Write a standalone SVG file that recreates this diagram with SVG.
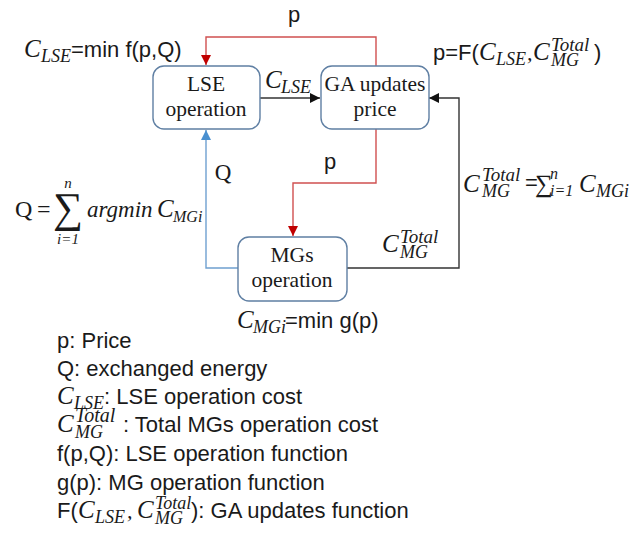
<svg xmlns="http://www.w3.org/2000/svg" width="640" height="539" viewBox="0 0 640 539">
<style>
.sans{font-family:"Liberation Sans",Arial,sans-serif;font-size:22px;fill:#1a1a1a}
.mi{font-family:"Liberation Serif","Times New Roman",serif;font-style:italic;fill:#1a1a1a}
.rm{font-family:"Liberation Serif","Times New Roman",serif;fill:#1a1a1a}
.box{fill:#fff;stroke:#5f7fa3;stroke-width:1.4}
.lbl{font-family:"Liberation Serif","Times New Roman",serif;font-size:21.5px;text-anchor:middle;fill:#1a1a1a}
.red{fill:none;stroke:#d05050;stroke-width:1.4}
.blue{fill:none;stroke:#6fa0d0;stroke-width:1.4}
.blk{fill:none;stroke:#333;stroke-width:1.4}
</style>
<defs>
<marker id="ar" markerUnits="userSpaceOnUse" markerWidth="12" markerHeight="12" refX="10" refY="5" orient="auto"><path d="M0,0 L10,5 L0,10 z" fill="#c00000"/></marker>
<marker id="ab" markerUnits="userSpaceOnUse" markerWidth="12" markerHeight="12" refX="10" refY="5" orient="auto"><path d="M0,0 L10,5 L0,10 z" fill="#4a90d0"/></marker>
<marker id="ak" markerUnits="userSpaceOnUse" markerWidth="12" markerHeight="12" refX="10" refY="5" orient="auto"><path d="M0,0 L10,5 L0,10 z" fill="#111"/></marker>
</defs>
<rect width="640" height="539" fill="#fff"/>
<g id="connectors">
<path class="red" d="M376,66 V37 H206 V65" marker-end="url(#ar)"/>
<path class="red" d="M376,129 V183 H293 V236" marker-end="url(#ar)"/>
<path class="blue" d="M238,268 H206 V130" marker-end="url(#ab)"/>
<path class="blk" d="M260,98 H320" marker-end="url(#ak)"/>
<path class="blk" d="M347,268 H459 V98 H429" marker-end="url(#ak)"/>
<text class="sans" x="294" y="22" text-anchor="middle">p</text>
<text class="sans" x="330" y="169" text-anchor="middle">p</text>
<text class="rm" x="223" y="180" font-size="23" text-anchor="middle">Q</text>
<text class="mi" x="265" y="88"><tspan font-size="25">C</tspan><tspan font-size="18" x="281" y="93">LSE</tspan></text>
<text class="mi" x="382" y="252"><tspan font-size="25">C</tspan><tspan font-size="19" x="400" y="243">Total</tspan><tspan font-size="18" x="400" y="258">MG</tspan></text>
</g>
<g id="lse">
<rect class="box" x="153" y="66" width="107" height="63" rx="11"/>
<text class="lbl" x="206" y="91">LSE</text>
<text class="lbl" x="206" y="116">operation</text>
</g>
<g id="ga">
<rect class="box" x="321" y="66" width="108" height="63" rx="11"/>
<text class="lbl" x="375" y="91">GA updates</text>
<text class="lbl" x="375" y="116">price</text>
</g>
<g id="mgs">
<rect class="box" x="238" y="237" width="109" height="64" rx="11"/>
<text class="lbl" x="292" y="262">MGs</text>
<text class="lbl" x="292" y="287">operation</text>
</g>
<g id="annotations">
<text x="24" y="57"><tspan class="mi" font-size="25">C</tspan><tspan class="mi" font-size="18" x="41" y="62">LSE</tspan><tspan class="sans" x="71" y="57">=min f(p,Q)</tspan></text>
<text x="433" y="60"><tspan class="sans">p=F(</tspan><tspan class="mi" font-size="25" x="479">C</tspan><tspan class="mi" font-size="18" x="496" y="65">LSE</tspan><tspan class="mi" font-size="22" x="527" y="60">,</tspan><tspan class="mi" font-size="25" x="533">C</tspan><tspan class="mi" font-size="19" x="551" y="51">Total</tspan><tspan class="mi" font-size="18" x="551" y="66">MG</tspan><tspan class="sans" x="594" y="60">)</tspan></text>
<text x="15" y="217"><tspan class="rm" font-size="24">Q</tspan><tspan class="rm" font-size="24" x="37">=</tspan></text>
<text class="rm" x="68" y="222" font-size="42" text-anchor="middle">∑</text>
<text class="mi" x="68" y="188" font-size="15" text-anchor="middle">n</text>
<text class="mi" x="68" y="244" font-size="15" text-anchor="middle">i=1</text>
<text x="87" y="217"><tspan class="mi" font-size="23">argmin</tspan><tspan class="mi" font-size="25" x="157">C</tspan><tspan class="mi" font-size="16" x="173" y="222">MGi</tspan></text>
<text x="463" y="192"><tspan class="mi" font-size="25">C</tspan><tspan class="mi" font-size="19" x="482" y="181">Total</tspan><tspan class="mi" font-size="18" x="482" y="197">MG</tspan><tspan class="sans" x="525" y="190" font-size="18">=</tspan><tspan class="rm" font-size="25" x="535" y="192">∑</tspan><tspan class="mi" font-size="16" x="550" y="179">n</tspan><tspan class="mi" font-size="16" x="550" y="196">i=1</tspan><tspan class="mi" font-size="25" x="579" y="192">C</tspan><tspan class="mi" font-size="18" x="596" y="197">MGi</tspan></text>
<text x="237" y="328"><tspan class="mi" font-size="25">C</tspan><tspan class="mi" font-size="18" x="253" y="333">MGi</tspan><tspan class="sans" x="285" y="328" font-size="20">=min g(p)</tspan></text>
</g>
<g id="legend">
<text class="sans" x="57" y="348">p: Price</text>
<text class="sans" x="57" y="376">Q: exchanged energy</text>
<text x="57" y="404"><tspan class="mi" font-size="25">C</tspan><tspan class="mi" font-size="18" x="74" y="409">LSE</tspan><tspan class="sans" x="104" y="404">: LSE operation cost</tspan></text>
<text x="57" y="432"><tspan class="mi" font-size="25">C</tspan><tspan class="mi" font-size="20" x="75" y="422">Total</tspan><tspan class="mi" font-size="18" x="75" y="438">MG</tspan><tspan class="sans" x="123" y="432">: Total MGs operation cost</tspan></text>
<text class="sans" x="57" y="461">f(p,Q): LSE operation function</text>
<text class="sans" x="57" y="490">g(p): MG operation function</text>
<text x="57" y="518"><tspan class="sans">F(</tspan><tspan class="mi" font-size="25" x="78">C</tspan><tspan class="mi" font-size="18" x="95" y="523">LSE</tspan><tspan class="mi" font-size="22" x="127" y="518">,</tspan><tspan class="mi" font-size="25" x="137">C</tspan><tspan class="mi" font-size="18" x="155" y="509">Total</tspan><tspan class="mi" font-size="18" x="155" y="524">MG</tspan><tspan class="sans" x="191" y="518">): GA updates function</tspan></text>
</g>
</svg>
